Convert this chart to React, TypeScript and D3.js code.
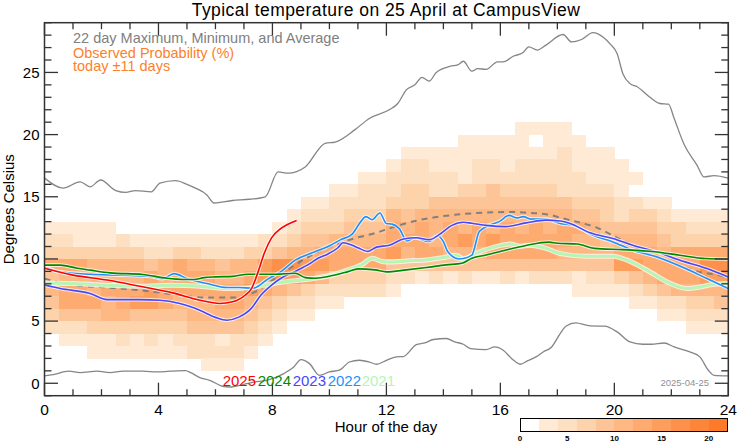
import React from "react";
import * as d3 from "d3";

const W = 742, H = 445;
const FONT = "'Liberation Sans', Arial, Helvetica, sans-serif";

// ---------- data ----------
const xTickMajor = [0, 4, 8, 12, 16, 20, 24];
const yTickMajor = [0, 5, 10, 15, 20, 25];
const colorbarTicks = [0, 5, 10, 15, 20];

// probability level per (row = temperature bin, col = half hour); rows from 20..21 down to 1..2
const heatRowLow = [20, 19, 18, 17, 16, 15, 14, 13, 12, 11, 10, 9, 8, 7, 6, 5, 4, 3, 2, 1];
const heatRows = [
  "000000000000000000000000000000000111100000000000",
  "000000000000000000000000000001111101110000000000",
  "000000000000000000000000011111111111211100000000",
  "000000000000000000000000122111221222211110000000",
  "000000000000000000000011222221222222221111000000",
  "000000000000000000001122233223343333222210000000",
  "000000000000000000112222333444444444433322110000",
  "000000000000000001222333545555555555544323321111",
  "111110000000000012333444656565656565665444433222",
  "221112111111111223445555666567676666655455543333",
  "333333322332223345566666756655566666555566656666",
  "666555545655455788776666444444444444444477666688",
  "455555565666556787653333221212112122212234566677",
  "566566676666667654322222100000000000011112345555",
  "466656776555665432211000000000000000000001122334",
  "344455444455554321100000000000000000000000011222",
  "222333333344443210000000000000000000000000000111",
  "011112121222122100000000000000000000000000000000",
  "000111111122221000000000000000000000000000000000",
  "000000000001110000000000000000000000000000000000",
];
const levelColors = [
  "#ffffff", "#feead5", "#fde0c2", "#fdd3ab", "#fdc597", "#fdb883",
  "#fdab70", "#fd9e5d", "#fd914b", "#fd853a", "#fd7a2a",
];

const maxHours = [0, 0.65, 1.25, 1.6, 1.97, 2.5, 2.85, 3.2, 3.75, 4.05, 4.6, 5.0, 5.3, 5.7, 5.95, 6.6, 7.2, 7.75, 8.2, 8.55, 9.15, 9.85, 10.2, 10.9, 11.4, 12.1, 12.4, 12.7, 13.0, 13.25, 13.5, 13.75, 14.25, 14.5, 14.7, 15.0, 15.2, 15.5, 15.9, 16.1, 16.45, 16.8, 17.0, 17.3, 17.6, 18.2, 18.5, 18.85, 19.25, 19.6, 19.85, 20.1, 20.3, 20.55, 20.8, 21.25, 21.6, 21.9, 22.1, 22.45, 22.9, 23.15, 23.5, 24];
const maxTemps = [16.5, 15.7, 16.2, 15.8, 16.35, 15.5, 15.35, 15.5, 15.4, 16.1, 16.3, 16.0, 15.7, 15.15, 14.5, 14.7, 14.8, 15.0, 17.0, 16.9, 17.4, 19.3, 19.4, 20.4, 21.3, 22.0, 22.5, 23.6, 24.0, 24.6, 24.3, 25.0, 25.5, 25.6, 25.9, 25.1, 25.3, 25.25, 25.85, 25.85, 26.3, 26.6, 27.05, 26.8, 27.2, 28.05, 27.45, 27.65, 28.2, 27.85, 27.3, 26.5, 24.9, 24.1, 23.85, 23.0, 22.5, 22.45, 21.3, 19.2, 17.55, 16.6, 16.7, 16.5];

const minHours = [0, 0.3, 0.85, 1.25, 1.85, 2.3, 2.75, 3.45, 3.95, 4.4, 4.95, 5.15, 5.45, 5.8, 6.25, 6.5, 7.0, 7.35, 7.8, 8.4, 8.75, 9.0, 9.3, 9.65, 10.0, 10.35, 10.7, 11.05, 11.4, 11.65, 12.0, 12.35, 12.6, 13.05, 13.35, 13.65, 14.1, 14.4, 14.7, 14.95, 15.5, 15.8, 16.1, 16.4, 16.7, 16.95, 17.25, 17.5, 17.8, 18.1, 18.3, 18.65, 19.15, 19.65, 20.1, 20.55, 21.0, 21.3, 21.75, 22.1, 22.65, 23.0, 23.3, 23.5, 24];
const minTemps = [0.6, 0.7, 0.97, 0.86, 0.97, 0.86, 0.97, 0.97, 0.91, 0.97, 1.02, 0.83, 0.46, 0.24, -0.24, -0.3, -0.08, 0.1, 0.24, 0.78, 1.31, 1.9, 1.58, 0.64, 0.91, 1.05, 1.71, 1.85, 1.71, 1.53, 1.85, 2.12, 2.15, 3.11, 3.25, 3.52, 3.6, 3.33, 3.14, 2.79, 2.71, 2.92, 2.65, 1.98, 1.53, 1.8, 2.12, 2.52, 2.92, 4.0, 4.59, 4.85, 4.61, 4.59, 4.13, 3.32, 3.14, 3.14, 3.24, 2.92, 2.52, 2.12, 1.05, 0.64, 0.59];

const avgHours = [0, 1.0, 2.2, 3.35, 4.5, 5.7, 6.6, 7.4, 8.1, 8.8, 9.5, 10.2, 10.9, 11.6, 12.3, 13.0, 13.7, 14.4, 15.1, 15.8, 16.4, 17.0, 17.6, 18.3, 19.0, 19.4, 20.1, 20.8, 21.5, 22.2, 22.9, 23.6, 24];
const avgTemps = [8.4, 7.9, 7.7, 7.48, 7.16, 6.89, 6.89, 7.37, 8.45, 9.52, 10.46, 11.13, 11.67, 12.07, 12.6, 13.05, 13.35, 13.55, 13.68, 13.75, 13.78, 13.7, 13.6, 13.2, 12.8, 12.5, 11.7, 10.9, 10.2, 9.57, 8.99, 8.71, 8.5];

const y2025Hours = [0, 1.0, 2.2, 3.35, 4.5, 5.45, 6.15, 6.6, 7.05, 7.27, 7.5, 7.72, 7.97, 8.3, 8.85];
const y2025Temps = [9.25, 8.7, 8.3, 7.8, 7.27, 6.68, 6.42, 6.55, 7.1, 7.64, 8.98, 10.5, 11.7, 12.45, 13.1];

const y2024Hours = [0, 0.55, 1.15, 1.6, 2.3, 3.45, 4.3, 4.85, 5.25, 5.6, 6.0, 6.6, 7.15, 8.1, 8.8, 9.15, 9.5, 10.2, 10.65, 11.0, 11.6, 12.0, 12.7, 13.4, 14.1, 14.65, 15.0, 15.5, 16.2, 16.9, 17.7, 18.0, 18.7, 19.3, 20.3, 21.4, 22.3, 23.2, 24];
const y2024Temps = [9.5, 9.5, 9.25, 9.1, 8.88, 8.75, 8.45, 8.35, 8.34, 8.5, 8.56, 8.6, 8.77, 8.77, 8.85, 8.5, 8.45, 8.71, 8.98, 9.2, 9.12, 8.96, 9.12, 9.31, 9.52, 9.65, 10.06, 10.32, 10.72, 11.08, 11.35, 11.26, 11.2, 10.85, 10.75, 10.58, 10.3, 10.03, 9.98];

const y2023Hours = [0, 0.55, 1.6, 2.2, 3.35, 4.05, 4.75, 5.45, 6.0, 6.4, 6.8, 7.25, 7.6, 7.97, 8.3, 8.8, 9.3, 9.6, 9.95, 10.3, 10.48, 10.8, 11.0, 11.35, 11.65, 12.1, 12.6, 13.05, 13.5, 13.85, 14.3, 14.7, 15.0, 15.5, 16.2, 16.9, 17.6, 18.1, 18.45, 19.15, 19.95, 20.65, 21.5, 22.3, 23.25, 24];
const y2023Temps = [7.9, 7.62, 7.22, 6.73, 6.73, 6.68, 6.41, 5.87, 5.3, 5.07, 5.3, 6.0, 7.1, 7.9, 8.45, 9.0, 9.6, 10.06, 10.4, 10.9, 11.3, 11.1, 10.9, 10.6, 10.95, 11.1, 11.6, 11.7, 11.55, 11.95, 12.7, 12.95, 12.87, 12.7, 12.6, 12.9, 13.12, 13.05, 12.85, 12.1, 11.64, 11.1, 10.56, 9.9, 9.23, 8.55];

const y2022Hours = [0, 0.55, 1.6, 2.75, 3.7, 4.15, 4.55, 5.0, 5.7, 6.4, 6.85, 7.3, 7.85, 8.3, 8.8, 9.4, 9.95, 10.4, 10.8, 11.1, 11.28, 11.5, 11.77, 12.0, 12.2, 12.45, 12.72, 13.0, 13.5, 13.8, 14.0, 14.15, 14.55, 14.7, 15.0, 15.26, 15.6, 15.96, 16.3, 16.6, 16.8, 17.1, 17.6, 18.1, 18.55, 19.25, 19.95, 20.65, 21.5, 22.5, 23.25, 24];
const y2022Temps = [9.36, 8.96, 8.77, 8.69, 8.6, 8.42, 8.82, 8.42, 8.02, 7.7, 7.7, 7.64, 8.4, 8.98, 9.9, 10.5, 11.0, 11.55, 12.0, 13.0, 13.4, 13.15, 13.7, 12.85, 12.8, 12.44, 11.45, 11.7, 11.4, 11.85, 11.4, 10.6, 10.0, 10.03, 10.3, 12.2, 12.7, 13.0, 13.5, 13.3, 13.4, 13.2, 13.2, 12.85, 12.71, 11.9, 11.37, 10.7, 10.16, 9.23, 8.42, 7.62];

const y2021Hours = [0, 1.0, 2.2, 3.35, 4.5, 5.45, 6.4, 6.95, 7.5, 8.3, 9.0, 9.5, 10.2, 10.65, 11.15, 11.5, 11.85, 12.1, 12.7, 13.4, 14.1, 14.45, 14.7, 15.15, 15.95, 16.35, 16.7, 17.0, 17.6, 18.1, 19.0, 19.95, 20.45, 21.15, 21.85, 22.55, 23.0, 23.5, 24];
const y2021Temps = [8.07, 8.02, 7.88, 7.8, 7.88, 7.8, 7.62, 7.64, 7.8, 8.13, 8.3, 8.45, 8.77, 9.12, 9.55, 10.05, 9.8, 9.75, 9.84, 9.92, 10.15, 10.3, 10.0, 10.46, 11.05, 11.2, 11.02, 11.1, 10.85, 10.43, 10.22, 10.22, 9.9, 9.09, 8.15, 7.62, 7.75, 7.96, 8.02];

const yearLabels = ["2025", "2024", "2023", "2022", "2021"];
const yearColors = ["#ff0000", "#008a00", "#4646ff", "#1e8fff", "#b6f5b6"];

// ---------- layout ----------
const L = 44.5, R = 728.3, T = 22.7, B = 395.7;
const x = d3.scaleLinear().domain([0, 24]).range([L, R]);
const y = d3.scaleLinear().domain([-1, 29]).range([B, T]);
const cb = d3.scaleLinear().domain([0, 22]).range([520, 727.7]);

const lineGen = d3
  .line<[number, number]>()
  .x((d) => x(d[0]))
  .y((d) => y(d[1]))
  .curve(d3.curveMonotoneX);

const zip = (h: number[], t: number[]) => h.map((v, i) => [v, t[i]] as [number, number]);

export default function App() {
  const cells: JSX.Element[] = [];
  heatRows.forEach((row, ri) => {
    const lo = heatRowLow[ri];
    for (let c = 0; c < 48; c++) {
      const lv = parseInt(row[c], 16);
      if (!lv) continue;
      const x0 = x(c / 2), x1 = x((c + 1) / 2);
      cells.push(
        <rect key={`c${ri}-${c}`} x={x0} y={y(lo + 1)} width={x1 - x0 + 0.3} height={y(lo) - y(lo + 1) + 0.3}
          fill={levelColors[lv]} />
      );
    }
  });

  const ticks: JSX.Element[] = [];
  for (let h = 0; h <= 24; h++) {
    const major = xTickMajor.includes(h);
    const len = major ? 13 : 6.5;
    const xx = x(h);
    ticks.push(<line key={`xb${h}`} x1={xx} x2={xx} y1={B} y2={B - len} />);
    ticks.push(<line key={`xt${h}`} x1={xx} x2={xx} y1={T} y2={T + len} />);
  }
  for (let t = -1; t <= 29; t++) {
    const major = yTickMajor.includes(t);
    const len = major ? 13.5 : 7;
    const yy = y(t);
    ticks.push(<line key={`yl${t}`} x1={L} x2={L + len} y1={yy} y2={yy} />);
    ticks.push(<line key={`yr${t}`} x1={R} x2={R - len} y1={yy} y2={yy} />);
  }

  const yearSeries = [
    { h: y2021Hours, t: y2021Temps, c: yearColors[4], w: 3 },
    { h: y2022Hours, t: y2022Temps, c: yearColors[3], w: 1.6 },
    { h: y2023Hours, t: y2023Temps, c: yearColors[2], w: 1.6 },
    { h: y2024Hours, t: y2024Temps, c: yearColors[1], w: 1.6 },
    { h: y2025Hours, t: y2025Temps, c: yearColors[0], w: 1.6 },
  ];

  const legendX = [222.7, 257.7, 292.7, 327.7, 361.7];

  return (
    <svg width={W} height={H} style={{ position: "absolute", left: 0, top: 0, background: "#fff" }}
      fontFamily={FONT}>
      <rect x={0} y={0} width={W} height={H} fill="#fff" />
      <g shapeRendering="crispEdges">{cells}</g>

      {/* max / min */}
      <path d={lineGen(zip(maxHours, maxTemps)) || ""} fill="none" stroke="#858585" strokeWidth={1.3} />
      <path d={lineGen(zip(minHours, minTemps)) || ""} fill="none" stroke="#858585" strokeWidth={1.3} />
      {/* average */}
      <path d={lineGen(zip(avgHours, avgTemps)) || ""} fill="none" stroke="#808080" strokeWidth={2}
        strokeDasharray="6,5" />

      {yearSeries.map((s, i) => {
        const d = lineGen(zip(s.h, s.t)) || "";
        return (
          <g key={`ys${i}`}>
            <path d={d} fill="none" stroke="#ffffff" strokeOpacity={0.75} strokeWidth={s.w + 2} />
            <path d={d} fill="none" stroke={s.c} strokeWidth={s.w} />
          </g>
        );
      })}

      {/* frame & ticks */}
      <g stroke="#333" strokeWidth={1.3}>{ticks}</g>
      <rect x={L} y={T} width={R - L} height={B - T} fill="none" stroke="#333" strokeWidth={1.5} />

      {/* tick labels */}
      {xTickMajor.map((h) => (
        <text key={`xl${h}`} x={x(h)} y={414.5} fontSize={15.5} textAnchor="middle" fill="#000">{h}</text>
      ))}
      {yTickMajor.map((t) => (
        <text key={`yl${t}`} x={39.5} y={y(t) + 5.3} fontSize={15} textAnchor="end" fill="#000">{t}</text>
      ))}

      {/* titles */}
      <text x={386} y={16} fontSize={17.5} letterSpacing={0.45} textAnchor="middle" fill="#000">Typical temperature on 25 April at CampusView</text>
      <text x={386} y={431.5} fontSize={15} textAnchor="middle" fill="#000">Hour of the day</text>
      <text transform={`translate(13.5,${(T + B) / 2}) rotate(-90)`} fontSize={15} textAnchor="middle" fill="#000">Degrees Celsius</text>

      <text x={73} y={42.8} fontSize={14.5} fill="#808080">22 day Maximum, Minimum, and Average</text>
      <text x={73} y={58.3} fontSize={14.5} fill="#fd7f2c">Observed Probability (%)</text>
      <text x={73} y={70.5} fontSize={14.5} fill="#fd7f2c">today ±11 days</text>

      {yearLabels.map((lab, i) => (
        <text key={lab} x={legendX[i]} y={385.6} fontSize={15} fill={yearColors[i]}>{lab}</text>
      ))}
      <text x={709} y={385.6} fontSize={9.5} textAnchor="end" fill="#909090">2025-04-25</text>

      {/* colorbar */}
      <g shapeRendering="crispEdges">
        {levelColors.map((c, i) => (
          <rect key={`cb${i}`} x={cb(i * 2)} y={418.3} width={cb(2) - cb(0) + 0.3} height={13.4} fill={c} />
        ))}
        <rect x={cb(0)} y={418.3} width={cb(22) - cb(0)} height={13.4} fill="none" stroke="#000" strokeWidth={1} />
      </g>
      {colorbarTicks.map((v) => (
        <text key={`cbt${v}`} x={cb(v)} y={440.5} fontSize={8} fontWeight="bold" textAnchor="middle" fill="#000">{v}</text>
      ))}
    </svg>
  );
}
